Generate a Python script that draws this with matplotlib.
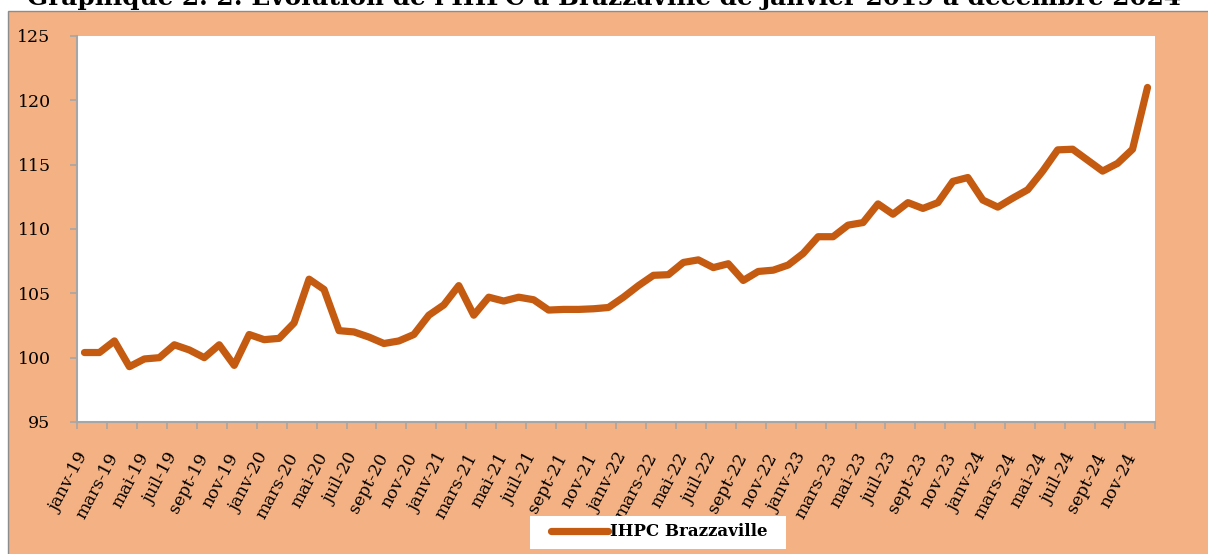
import matplotlib
matplotlib.use("Agg")
import matplotlib.pyplot as plt
from matplotlib.patches import Rectangle

# ---- data ----
month_abbr = ["janv", "févr", "mars", "avr", "mai", "juin",
              "juil", "août", "sept", "oct", "nov", "déc"]
years = ["19", "20", "21", "22", "23", "24"]
categories = [f"{m}-{y}" for y in years for m in month_abbr]

ihpc = [100.4, 100.4, 101.3, 99.3, 99.9, 100.0, 101.0, 100.6, 100.0, 101.0, 99.4, 101.8,
        101.4, 101.5, 102.7, 106.1, 105.3, 102.1, 102.0, 101.6, 101.1, 101.3, 101.8, 103.3,
        104.1, 105.6, 103.3, 104.7, 104.4, 104.7, 104.5, 103.7, 103.75, 103.75, 103.8, 103.9,
        104.7, 105.6, 106.4, 106.45, 107.4, 107.6, 107.0, 107.3, 106.0, 106.7, 106.8, 107.2,
        108.1, 109.4, 109.4, 110.3, 110.5, 111.95, 111.15, 112.05, 111.6, 112.05, 113.7, 114.0,
        112.25, 111.7, 112.4, 113.05, 114.5, 116.15, 116.2, 115.35, 114.5, 115.1, 116.2, 121.0]

series_name = "IHPC Brazzaville"
title = "Graphique 2. 2: Evolution de l'IHPC à Brazzaville de janvier 2019 à décembre 2024"
y_ticks = [95, 100, 105, 110, 115, 120, 125]

# ---- style ----
BG = "#F4B183"
LINE = "#C55A11"
AXC = "#A6A6A6"
SERIF = ["DejaVu Serif"]

W, H = 1208, 554
fig = plt.figure(figsize=(W / 100, H / 100), dpi=100, facecolor="white")

# orange chart area
fig.add_artist(Rectangle((8 / W, -0.05), 1.2, 1 - 11 / H + 0.05,
                         transform=fig.transFigure, facecolor=BG,
                         edgecolor="#8C8C8C", linewidth=1, zorder=0))

# title at very top (partly hidden, as in the source document)
fig.text(0.5, 1 - 5 / H, title, ha="center", va="baseline",
         fontsize=17.8, fontweight="bold", family=SERIF, color="black")

left, right, top, bottom = 77 / W, 1155 / W, 1 - 36 / H, 1 - 422 / H
ax = fig.add_axes([left, bottom, right - left, top - bottom])
ax.set_facecolor("white")

x = list(range(len(ihpc)))
ax.plot(x, ihpc, color=LINE, linewidth=5.2, solid_capstyle="round",
        solid_joinstyle="round", label=series_name, zorder=3)

ax.set_xlim(-0.5, len(ihpc) - 0.5)
ax.set_ylim(95, 125)
ax.set_yticks(y_ticks)
ax.set_yticklabels([str(v) for v in y_ticks], family=SERIF, fontsize=12.5)

# major ticks: labels every 2 months (no marks); minor: marks between categories
ax.set_xticks(x[::2])
ax.set_xticklabels(categories[::2], rotation=62, ha="right", va="center",
                   rotation_mode="anchor", family=SERIF, fontsize=12.5)
ax.set_xticks([i - 0.5 for i in range(0, len(ihpc) + 1, 2)], minor=True)
ax.tick_params(axis="x", which="major", length=0, pad=23)
ax.tick_params(axis="x", which="minor", length=5, color=AXC, width=1.2)
ax.tick_params(axis="y", length=5, color=AXC, width=1.2, pad=14)

for s in ["top", "right"]:
    ax.spines[s].set_visible(False)
for s in ["left", "bottom"]:
    ax.spines[s].set_color(AXC)
    ax.spines[s].set_linewidth(1.5)

# legend: white box + entry
fig.add_artist(Rectangle((530 / W, 1 - 549 / H), 256 / W, 33 / H,
                         transform=fig.transFigure, facecolor="white",
                         edgecolor="none", zorder=1))
leg = fig.legend(loc="center left", bbox_to_anchor=(551 / W, 1 - 532 / H),
                 frameon=False,
                 prop={"family": SERIF, "weight": "bold", "size": 12},
                 handlelength=3.42, handletextpad=0.15, borderpad=0,
                 borderaxespad=0)
leg.set_zorder(2)

fig.savefig("out.png", dpi=100, facecolor="white")
